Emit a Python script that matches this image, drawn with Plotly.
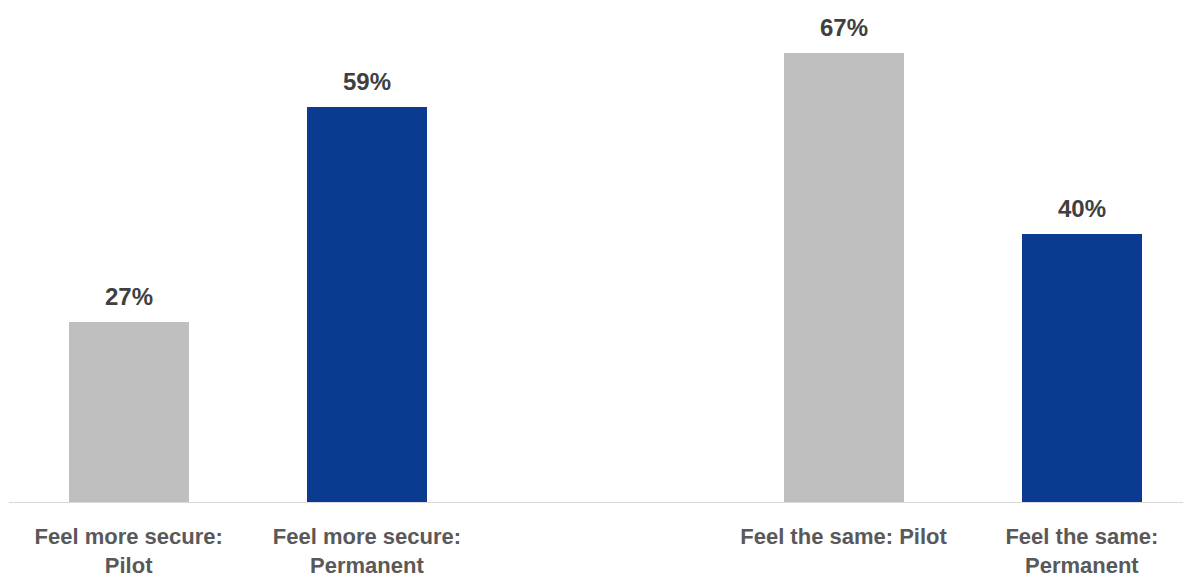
import plotly.graph_objects as go

categories = ["Feel more secure:<br>Pilot", "Feel more secure:<br>Permanent", "",
              "Feel the same: Pilot", "Feel the same:<br>Permanent"]
positions = [0, 1, 2, 3, 4]
values = [27, 59, None, 67, 40]
colors = ["#BFBFBF", "#0B3A91", "#FFFFFF", "#BFBFBF", "#0B3A91"]

FONT = "Liberation Sans Narrow, Arial Narrow, Liberation Sans, Arial, sans-serif"

bar_x = [p for p, v in zip(positions, values) if v is not None]
bar_y = [v for v in values if v is not None]
bar_c = [c for c, v in zip(colors, values) if v is not None]

fig = go.Figure()
fig.add_trace(go.Bar(
    x=bar_x, y=bar_y, marker=dict(color=bar_c, line=dict(width=0)),
    width=0.504, showlegend=False, hoverinfo="skip",
))

for x, y in zip(bar_x, bar_y):
    fig.add_annotation(x=x, y=y, text=f"<b>{y}%</b>", showarrow=False,
                       yanchor="bottom", yshift=10,
                       font=dict(family=FONT, size=24, color="#404040"))

slot = 238.3
x0 = -0.5 - 9.5 / slot
x1 = x0 + 1183 / slot

fig.update_layout(
    width=1183, height=577,
    margin=dict(l=0, r=0, t=0, b=74),
    plot_bgcolor="white", paper_bgcolor="white",
    bargap=0,
    xaxis=dict(range=[x0, x1], tickvals=positions,
               ticktext=[f"<b>{c}</b>" for c in categories],
               showgrid=False, zeroline=False, showline=False, ticks="",
               ticklabelstandoff=18,
               tickfont=dict(family=FONT, size=22, color="#595959")),
    yaxis=dict(range=[0, 74.85], visible=False, showgrid=False, zeroline=False),
    shapes=[dict(type="line", xref="paper", yref="y", x0=9 / 1183, x1=1, y0=0, y1=0,
                 line=dict(color="#D9D9D9", width=2))],
)

fig.write_html("out.html")
